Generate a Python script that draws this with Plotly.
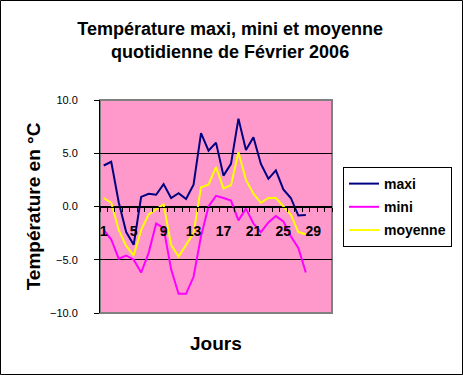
import plotly.graph_objects as go

# ---- data ----
days = list(range(1, 29))
maxi = [3.85, 4.2, 0.4, -2.4, -3.6, 0.9, 1.2, 1.1, 2.1, 0.8, 1.25, 0.7, 2.05, 6.9,
        5.25, 6.0, 2.9, 4.0, 8.25, 5.3, 6.5, 4.0, 2.6, 3.4, 1.6, 0.8, -0.85, -0.8]
mini = [-2.2, -3.1, -4.9, -4.6, -5.0, -6.2, -4.35, -1.6, -2.0, -5.9, -8.2, -8.2, -6.6, -2.8,
        0.0, 1.0, 0.8, 0.55, -1.3, -0.2, -1.6, -2.4, -1.5, -0.9, -1.4, -2.8, -3.9, -6.2]
moyenne = [0.8, 0.35, -2.2, -3.7, -4.6, -2.2, -0.75, -0.3, 0.2, -3.6, -4.7, -3.6, -2.5, 1.8,
           2.05, 3.7, 1.7, 2.0, 5.1, 2.5, 1.2, 0.35, 0.8, 0.8, 0.05, -0.75, -2.4, -2.6]
x_tick_vals = [1, 5, 9, 13, 17, 21, 25, 29]
x_tick_text = ["1", "5", "9", "13", "17", "21", "25", "29"]
n_categories = 31
y_tick_vals = [-10, -5, 0, 5, 10]

W, H = 463, 375
ML, MR, MT, MB = 100, 131, 100, 62
PW, PH = W - ML - MR, H - MT - MB

series = [("maxi", maxi, "#000080"), ("mini", mini, "#FF00FF"), ("moyenne", moyenne, "#FFFF00")]

fig = go.Figure()
for name, vals, col in series:
    fig.add_trace(go.Scatter(x=days, y=vals, mode="lines", name=name, legendgroup=name,
                             line=dict(color=col, width=2)))

fig.update_layout(
    width=W, height=H,
    margin=dict(l=ML, r=MR, t=MT, b=MB, autoexpand=False),
    paper_bgcolor="white",
    plot_bgcolor="#FF99CC",
    font=dict(family="Liberation Sans, Arial, sans-serif", color="black"),
    title=dict(text="Température maxi, mini et moyenne<br>quotidienne de Février 2006",
               xref="container", x=0.497, xanchor="center",
               yref="container", y=1 - 35 / H, yanchor="top",
               font=dict(size=18, weight="bold", color="black")),
    showlegend=True,
    legend=dict(x=(343 - ML) / PW, xanchor="left", y=(H - MB - 167) / PH, yanchor="top",
                bgcolor="white", bordercolor="black", borderwidth=1,
                font=dict(size=14, weight="bold"), tracegroupgap=2),
    xaxis=dict(range=[0.5, n_categories + 0.5], anchor="free", position=0.5,
               showgrid=False, zeroline=False, showline=True, linecolor="black", linewidth=1,
               tickmode="array", tickvals=x_tick_vals, ticktext=x_tick_text,
               ticks="outside", ticklen=4, tickcolor="rgba(0,0,0,0)",
               ticklabelstandoff=8,
               tickfont=dict(size=14, weight="bold"),
               minor=dict(ticks="outside", ticklen=4, tickcolor="black", tickwidth=1,
                          tick0=0.5, dtick=1, showgrid=False)),
    yaxis=dict(range=[-10, 10], tickmode="array", tickvals=y_tick_vals, tickformat=".1f",
               showgrid=True, gridcolor="black", gridwidth=1,
               zeroline=True, zerolinecolor="black", zerolinewidth=1,
               showline=True, linecolor="black", linewidth=1,
               ticks="outside", ticklen=5, tickcolor="black",
               ticklabelstandoff=14,
               tickfont=dict(size=11),
               title=dict(text="Température en °C", standoff=4,
                          font=dict(size=19, weight="bold"))),
    annotations=[dict(text="Jours", xref="paper", yref="paper", x=0.5, y=(H - MB - 343) / PH,
                      xanchor="center", yanchor="middle", showarrow=False,
                      font=dict(size=19, weight="bold", color="black"))],
    shapes=[
        dict(type="rect", xref="x domain", yref="y domain", x0=0, x1=1, y0=0, y1=1,
             line=dict(color="#808080", width=2), layer="below"),
        dict(type="rect", xref="paper", yref="paper",
             x0=-(ML - 0.5) / PW, x1=1 + (MR - 0.5) / PW,
             y0=-(MB - 0.5) / PH, y1=1 + (MT - 0.5) / PH,
             line=dict(color="black", width=1)),
    ],
)

fig.write_html("out.html", config={"displayModeBar": False},
               post_script="document.body.style.margin='0px';")
